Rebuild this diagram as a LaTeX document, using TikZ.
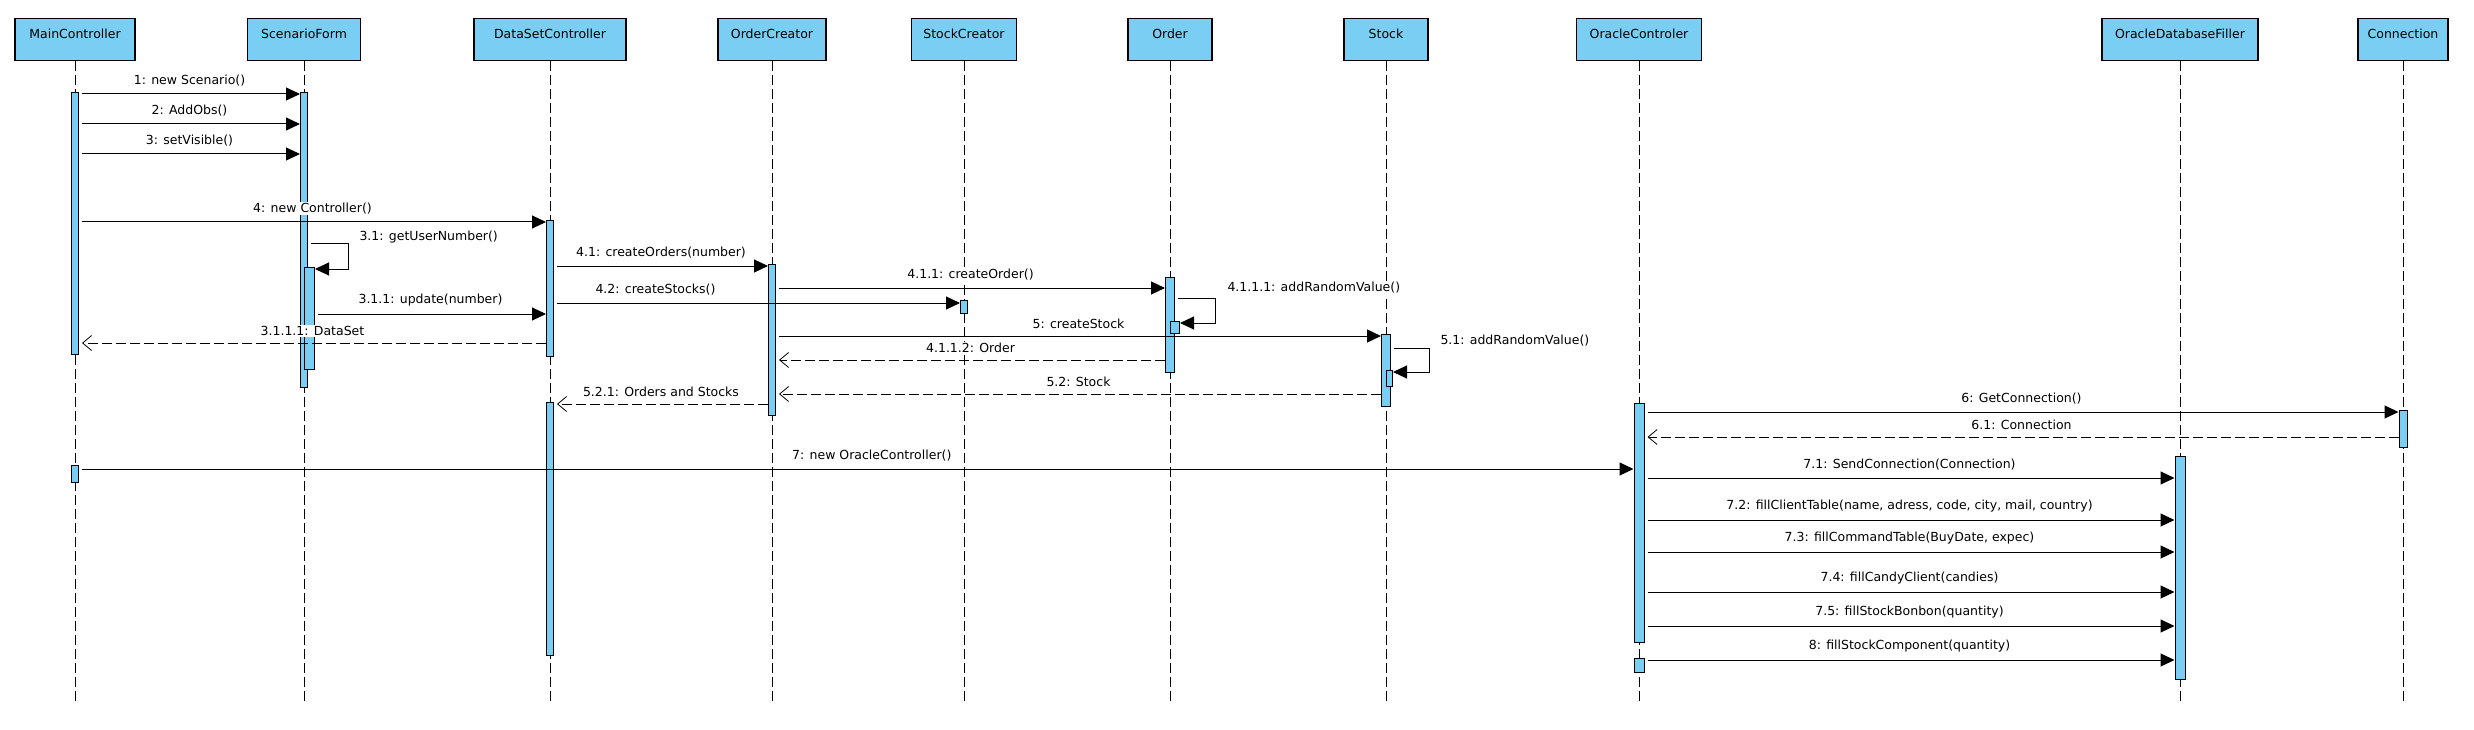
\documentclass[tikz,border=0pt]{standalone}
\usepackage{fontspec}
\setmainfont{DejaVu Sans}
\usetikzlibrary{arrows.meta}
\definecolor{lifeblue}{RGB}{122,206,244}

\begin{document}
\begin{tikzpicture}[x=1pt,y=-1pt,
    font=\fontsize{12.5}{15}\selectfont,
    head/.style={draw,line width=1.2pt,fill=lifeblue,anchor=north,minimum height=42pt,text height=15pt,text depth=18pt,inner ysep=4.5pt},
    life/.style={line width=0.9pt,dash pattern=on 10pt off 4pt},
    bar/.style={draw,line width=1pt,fill=lifeblue,anchor=north,inner sep=0pt,minimum width=7pt},
    subbar/.style={bar,anchor=north west},
    msg/.style={line width=1pt,-{Triangle[length=14pt,width=13pt]},shorten <=3pt},
    ret/.style={line width=1pt,dash pattern=on 10pt off 4pt,-{Straight Barb[length=9pt,width=15pt,line width=0.8pt]},shorten >=3pt},
    lbl/.style={fill=white,inner xsep=3pt,inner ysep=1pt,midway,above=6pt},
    selflbl/.style={fill=white,inner xsep=3pt,inner ysep=1pt,anchor=west}]
    \useasboundingbox (0,0) rectangle (2474,730);

    \node[head,minimum width=120pt] (mc) at (75,18) {MainController};
    \node[head,minimum width=113pt] (sf) at (304,18) {ScenarioForm};
    \node[head,minimum width=152pt] (dsc) at (550,18) {DataSetController};
    \node[head,minimum width=108pt] (occ) at (772,18) {OrderCreator};
    \node[head,minimum width=105pt] (scr) at (964,18) {StockCreator};
    \node[head,minimum width=84pt] (ord) at (1170,18) {Order};
    \node[head,minimum width=84pt] (stk) at (1386,18) {Stock};
    \node[head,minimum width=125pt] (orc) at (1639,18) {OracleControler};
    \node[head,minimum width=156pt] (odf) at (2180,18) {OracleDatabaseFiller};
    \node[head,minimum width=90pt] (conn) at (2403,18) {Connection};

    \draw[life] (mc.south) -- ++(0,643);
    \draw[life] (sf.south) -- ++(0,643);
    \draw[life] (dsc.south) -- ++(0,643);
    \draw[life] (occ.south) -- ++(0,643);
    \draw[life] (scr.south) -- ++(0,643);
    \draw[life] (ord.south) -- ++(0,643);
    \draw[life] (stk.south) -- ++(0,643);
    \draw[life] (orc.south) -- ++(0,643);
    \draw[life] (odf.south) -- ++(0,643);
    \draw[life] (conn.south) -- ++(0,643);

    \node[bar,minimum height=262pt] (mcA) at (mc.south |- 0,92) {};
    \node[bar,minimum height=17pt] (mcB) at (mc.south |- 0,465) {};
    \node[bar,minimum height=295pt] (sfA) at (sf.south |- 0,92) {};
    \node[subbar,minimum width=10pt,minimum height=102pt] (sfB) at (sf.south |- 0,267) {};
    \node[bar,minimum height=136pt] (dscA) at (dsc.south |- 0,220) {};
    \node[bar,minimum height=253pt] (dscB) at (dsc.south |- 0,402) {};
    \node[bar,minimum height=151pt] (occA) at (occ.south |- 0,264) {};
    \node[bar,minimum height=13pt] (scrA) at (scr.south |- 0,300) {};
    \node[bar,minimum width=9pt,minimum height=95pt] (ordA) at (ord.south |- 0,277) {};
    \node[subbar,minimum width=9pt,minimum height=12pt] (ordB) at (ord.south |- 0,321) {};
    \node[bar,minimum width=9pt,minimum height=72pt] (stkA) at (stk.south |- 0,334) {};
    \node[subbar,minimum width=6pt,minimum height=16pt] (stkB) at (stk.south |- 0,370) {};
    \node[bar,minimum width=10pt,minimum height=239pt] (orcA) at (orc.south |- 0,403) {};
    \node[bar,minimum width=10pt,minimum height=14pt] (orcB) at (orc.south |- 0,658) {};
    \node[bar,minimum width=10pt,minimum height=223pt] (odfA) at (odf.south |- 0,456) {};
    \node[bar,minimum width=8pt,minimum height=37pt] (connA) at (conn.south |- 0,410) {};

    \draw[msg] (mcA.east |- 0,94) -- node[lbl] {1: new Scenario()} (sfA.west |- 0,94);
    \draw[msg] (mcA.east |- 0,124) -- node[lbl] {2: AddObs()} (sfA.west |- 0,124);
    \draw[msg] (mcA.east |- 0,154) -- node[lbl] {3: setVisible()} (sfA.west |- 0,154);
    \draw[msg] (mcA.east |- 0,222) -- node[lbl] {4: new Controller()} (dscA.west |- 0,222);
    \draw[msg] (sfA.east |- 0,244) -- ++(40,0) node[selflbl,xshift=8pt,yshift=7pt] {3.1: getUserNumber()} |- (sfB.east |- 0,269);
    \draw[msg] (dscA.east |- 0,266) -- node[lbl] {4.1: createOrders(number)} (occA.west |- 0,266);
    \draw[msg] (occA.east |- 0,288) -- node[lbl] {4.1.1: createOrder()} (ordA.west |- 0,288);
    \draw[msg] (ordA.east |- 0,298) -- ++(40,0) node[selflbl,xshift=9pt,yshift=10pt] {4.1.1.1: addRandomValue()} |- (ordB.east |- 0,323);
    \draw[msg] (dscA.east |- 0,303) -- node[lbl,pos=0.25] {4.2: createStocks()} (scrA.west |- 0,303);
    \draw[msg] (sfB.east |- 0,314) -- node[lbl] {3.1.1: update(number)} (dscA.west |- 0,314);
    \draw[msg] (occA.east |- 0,336) -- node[lbl] {5: createStock} (stkA.west |- 0,336);
    \draw[ret] (dscA.west |- 0,343) -- node[lbl] {3.1.1.1: DataSet} (mcA.east |- 0,343);
    \draw[msg] (stkA.east |- 0,348) -- ++(38,0) node[selflbl,xshift=8pt,yshift=7pt] {5.1: addRandomValue()} |- (stkB.east |- 0,372);
    \draw[ret] (ordA.west |- 0,360) -- node[lbl] {4.1.1.2: Order} (occA.east |- 0,360);
    \draw[ret] (stkA.west |- 0,394) -- node[lbl] {5.2: Stock} (occA.east |- 0,394);
    \draw[ret] (occA.west |- 0,404) -- node[lbl] {5.2.1: Orders and Stocks} (dscB.east |- 0,404);
    \draw[msg] (orcA.east |- 0,412) -- node[lbl] {6: GetConnection()} (connA.west |- 0,412);
    \draw[ret] (connA.west |- 0,437) -- node[lbl] {6.1: Connection} (orcA.east |- 0,437);
    \draw[msg] (mcB.east |- 0,469) -- node[lbl,pos=0.51] {7: new OracleController()} (orcA.west |- 0,469);
    \draw[msg] (orcA.east |- 0,478) -- node[lbl] {7.1: SendConnection(Connection)} (odfA.west |- 0,478);
    \draw[msg] (orcA.east |- 0,520) -- node[lbl] {7.2: fillClientTable(name, adress, code, city, mail, country)} (odfA.west |- 0,520);
    \draw[msg] (orcA.east |- 0,552) -- node[lbl] {7.3: fillCommandTable(BuyDate, expec)} (odfA.west |- 0,552);
    \draw[msg] (orcA.east |- 0,592) -- node[lbl] {7.4: fillCandyClient(candies)} (odfA.west |- 0,592);
    \draw[msg] (orcA.east |- 0,626) -- node[lbl] {7.5: fillStockBonbon(quantity)} (odfA.west |- 0,626);
    \draw[msg] (orcB.east |- 0,660) -- node[lbl] {8: fillStockComponent(quantity)} (odfA.west |- 0,660);
\end{tikzpicture}
\end{document}
